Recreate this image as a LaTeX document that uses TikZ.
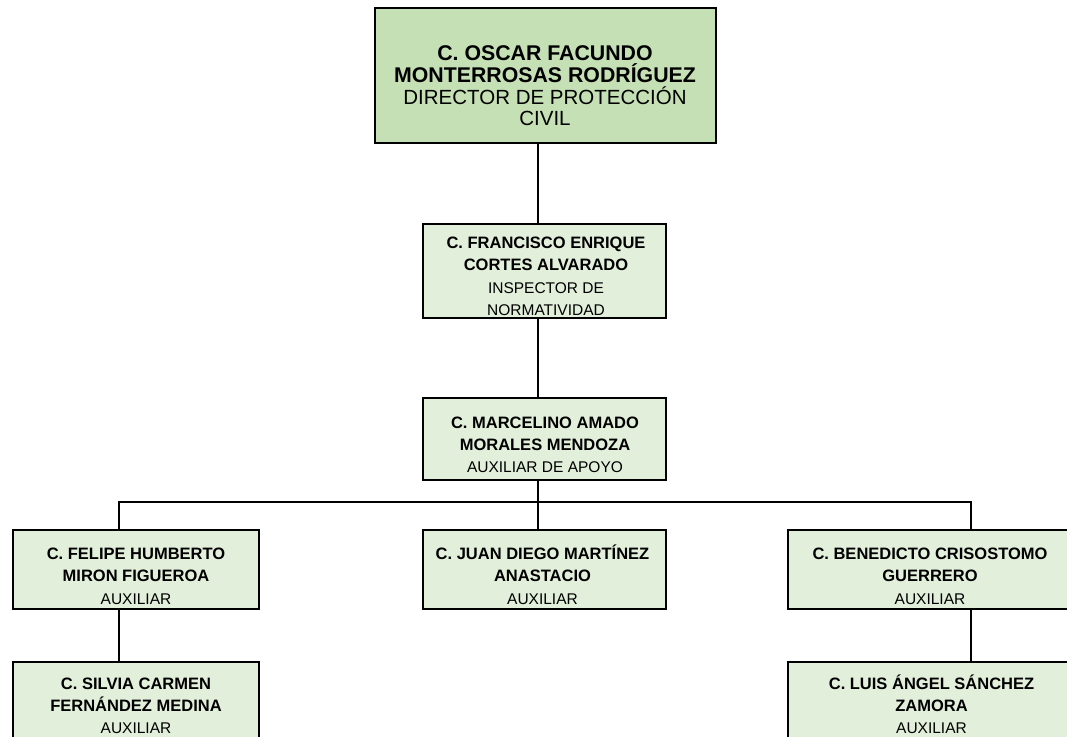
\documentclass[tikz,border=0pt]{standalone}
\usepackage{fontspec}
\setmainfont{Liberation Sans}
\definecolor{topgreen}{HTML}{C5E0B4}
\definecolor{boxgreen}{HTML}{E2EFDA}
\newcommand{\bl}[1]{{\fontsize{16.5}{22}\selectfont\bfseries\rule{0pt}{15pt}#1}}
\newcommand{\bt}[1]{{\fontsize{21.3}{21.7}\selectfont\bfseries #1}}
\begin{document}
\begin{tikzpicture}[x=1pt,y=-1pt,
  box/.style={draw=black, line width=1.5pt, inner sep=0pt, fill=boxgreen},
  topbox/.style={box, fill=topgreen},
  bigtxt/.style={align=center, inner sep=0pt, font=\fontsize{20.5}{21.7}\selectfont},
  txt/.style={align=center, inner sep=0pt, font=\fontsize{15.5}{22.3}\selectfont},
  conn/.style={draw=black, line width=1.6pt}]
\useasboundingbox (0,0) rectangle (1067,736);
\clip (0,0) rectangle (1067,736);
\fill[white] (0,0) rectangle (1067,736);

% boxes
\node[topbox, minimum width=341pt, minimum height=135pt] (b0) at (545.5,75.5) {};
\node[box, minimum width=243pt, minimum height=94pt] (b1) at (544.5,271) {};
\node[box, minimum width=243pt, minimum height=82pt] (b2) at (544.5,439) {};
\node[box, minimum width=246pt, minimum height=79pt] (bl) at (136,569.5) {};
\node[box, minimum width=243pt, minimum height=79pt] (bm) at (544.5,569.5) {};
\node[box, minimum width=287pt, minimum height=79pt] (br) at (931.5,569.5) {};
\node[box, minimum width=246pt, minimum height=79pt] (bll) at (136,701.5) {};
\node[box, minimum width=287pt, minimum height=79pt] (brr) at (931.5,701.5) {};

% texts
\node[bigtxt] (t0) at (545,86) {\bt{C. OSCAR FACUNDO}\\\bt{MONTERROSAS RODRÍGUEZ}\\DIRECTOR DE PROTECCIÓN\\CIVIL};
\node[txt] (t1) at (546,274.5) {\bl{C. FRANCISCO ENRIQUE}\\\bl{CORTES ALVARADO}\\INSPECTOR DE\\NORMATIVIDAD};
\node[txt] (t2) at (545,443) {\bl{C. MARCELINO AMADO}\\\bl{MORALES MENDOZA}\\AUXILIAR DE APOYO};
\node[txt] (tl) at (136,574.5) {\bl{C. FELIPE HUMBERTO}\\\bl{MIRON FIGUEROA}\\AUXILIAR};
\node[txt] (tm) at (542.5,574.5) {\bl{C. JUAN DIEGO MARTÍNEZ}\\\bl{ANASTACIO}\\AUXILIAR};
\node[txt] (tr) at (930,574.5) {\bl{C. BENEDICTO CRISOSTOMO}\\\bl{GUERRERO}\\AUXILIAR};
\node[txt] (tll) at (136,704) {\bl{C. SILVIA CARMEN}\\\bl{FERNÁNDEZ MEDINA}\\AUXILIAR};
\node[txt] (trr) at (931.5,704) {\bl{C. LUIS ÁNGEL SÁNCHEZ}\\\bl{ZAMORA}\\AUXILIAR};

% connector guide coordinates
\coordinate (xc) at (538,0);
\coordinate (xl) at (119,0);
\coordinate (xr) at (971,0);
\coordinate (bus) at (0,502);

\draw[conn] (b0.south -| xc) -- (b1.north -| xc);
\draw[conn] (b1.south -| xc) -- (b2.north -| xc);
\draw[conn] (b2.south -| xc) -- (bm.north -| xc);
\draw[conn] (bl.north -| xl) -- (bus -| xl) -- (bus -| xr) -- (br.north -| xr);
\draw[conn] (bl.south -| xl) -- (bll.north -| xl);
\draw[conn] (br.south -| xr) -- (brr.north -| xr);
\end{tikzpicture}
\end{document}
